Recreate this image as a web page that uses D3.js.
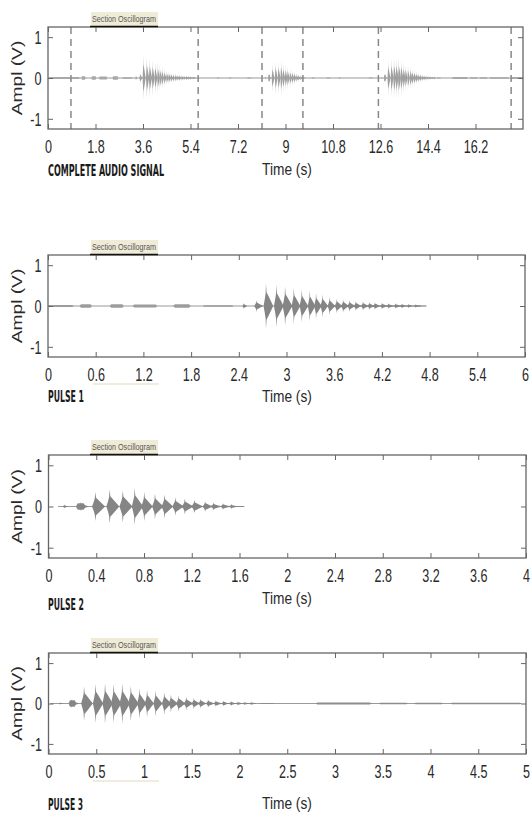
<!DOCTYPE html>
<html><head><meta charset="utf-8">
<script src="https://cdn.jsdelivr.net/npm/d3@7"></script>
<style>body{margin:0;background:#fff} svg{display:block}</style>
</head><body>
<svg id="c" width="532" height="814"></svg>
<script>
// ---------------- DATA ----------------
const fullTicks   = [0, 1.8, 3.6, 5.4, 7.2, 9, 10.8, 12.6, 14.4, 16.2];
const pulse1Ticks = [0, 0.6, 1.2, 1.8, 2.4, 3, 3.6, 4.2, 4.8, 5.4, 6];
const pulse2Ticks = [0, 0.4, 0.8, 1.2, 1.6, 2, 2.4, 2.8, 3.2, 3.6, 4];
const pulse3Ticks = [0, 0.5, 1, 1.5, 2, 2.5, 3, 3.5, 4, 4.5, 5];
const ampTicks = [-1, 0, 1];
const xDomains = [18, 6, 4, 5];

const panelTitles = ["COMPLETE AUDIO SIGNAL", "PULSE 1", "PULSE 2", "PULSE 3"];
const sectionLabel = "Section Oscillogram";

// section boundaries in the complete signal (dashed lines)
const sectionStarts = [0.87, 8.11, 12.52];
const sectionEnds   = [5.69, 9.66, 17.55];

// Pulse 1 (local time, s)
const p1Times  = [2.46, 2.62, 2.74, 2.87, 2.98, 3.09, 3.19, 3.29, 3.37, 3.45, 3.54, 3.63, 3.71, 3.79, 3.87, 3.96, 4.04, 4.11, 4.20, 4.28, 4.37, 4.45, 4.53, 4.62];
const p1Amps   = [0.08, 0.14, 0.56, 0.52, 0.48, 0.44, 0.40, 0.38, 0.32, 0.28, 0.22, 0.18, 0.16, 0.14, 0.12, 0.11, 0.10, 0.09, 0.08, 0.07, 0.07, 0.06, 0.05, 0.04];
const p1Widths = [0.04, 0.08, 0.09, 0.09, 0.09, 0.08, 0.08, 0.07, 0.07, 0.07, 0.07, 0.07, 0.07, 0.07, 0.07, 0.07, 0.06, 0.07, 0.07, 0.07, 0.07, 0.07, 0.07, 0.07];
const p1NoiseStart = [0.00, 0.40, 0.78, 1.07, 1.58, 1.95, 4.62];
const p1NoiseEnd   = [0.32, 0.55, 0.95, 1.37, 1.79, 2.33, 4.76];
const p1NoiseAmp   = [0.025, 0.04, 0.04, 0.035, 0.04, 0.02, 0.015];
const p1Span = [0, 4.76];

// Pulse 2
const p2Times  = [0.13, 0.27, 0.39, 0.51, 0.62, 0.72, 0.80, 0.89, 0.97, 1.06, 1.14, 1.22, 1.31, 1.38, 1.46, 1.53];
const p2Amps   = [0.05, 0.11, 0.35, 0.41, 0.39, 0.45, 0.35, 0.31, 0.29, 0.22, 0.19, 0.16, 0.13, 0.10, 0.08, 0.06];
const p2Widths = [0.03, 0.06, 0.08, 0.08, 0.08, 0.07, 0.07, 0.07, 0.07, 0.07, 0.07, 0.07, 0.06, 0.06, 0.06, 0.06];
const p2NoiseStart = [0.23, 1.53];
const p2NoiseEnd   = [0.31, 1.64];
const p2NoiseAmp   = [0.08, 0.015];
const p2Span = [0.08, 1.64];

// Pulse 3
const p3Times  = [0.12, 0.24, 0.37, 0.49, 0.59, 0.68, 0.77, 0.86, 0.95, 1.03, 1.12, 1.21, 1.28, 1.36, 1.44, 1.52, 1.59, 1.67, 1.75, 1.83, 1.91, 1.98, 2.05, 2.12];
const p3Amps   = [0.03, 0.10, 0.42, 0.48, 0.50, 0.48, 0.50, 0.44, 0.38, 0.34, 0.32, 0.28, 0.22, 0.20, 0.16, 0.14, 0.12, 0.10, 0.08, 0.07, 0.06, 0.05, 0.04, 0.04];
const p3Widths = [0.03, 0.07, 0.09, 0.08, 0.08, 0.08, 0.08, 0.08, 0.07, 0.07, 0.07, 0.07, 0.07, 0.07, 0.07, 0.06, 0.06, 0.06, 0.06, 0.06, 0.06, 0.05, 0.05, 0.05];
const p3NoiseStart = [0.21, 2.22, 2.80, 3.46, 3.83, 4.21];
const p3NoiseEnd   = [0.29, 2.36, 3.38, 3.76, 4.13, 4.95];
const p3NoiseAmp   = [0.08, 0.012, 0.022, 0.02, 0.02, 0.02];
const p3Span = [0.02, 4.95];

// extra noise in the complete signal outside the sections
const fullNoiseStart = [0.05, 6.40, 6.85, 7.55, 10.00, 10.55, 11.00, 12.15, 17.55];
const fullNoiseEnd   = [0.85, 6.50, 6.95, 7.70, 10.10, 10.70, 11.10, 12.30, 18.00];
const fullNoiseAmp   = [0.025, 0.015, 0.015, 0.015, 0.015, 0.015, 0.015, 0.015, 0.025];

// ---------------- HELPERS ----------------
function pulses(times, amps, widths, off) {
  return times.map((t, i) => ({t: t + off, a: amps[i], w: widths[i]}));
}
function noise(s, e, a, off) {
  return s.map((v, i) => ({s: v + off, e: e[i] + off, a: a[i]}));
}
// envelope of one pulse: pointed spike over a spindle-shaped decaying body
const SHAPE = [[-0.3, 0.02], [-0.15, 0.3], [-0.03, 0.55], [0.02, 1], [0.1, 0.6], [0.35, 0.45], [0.7, 0.22], [1.0, 0.02]];

const P1 = pulses(p1Times, p1Amps, p1Widths, 0), P2 = pulses(p2Times, p2Amps, p2Widths, 0), P3 = pulses(p3Times, p3Amps, p3Widths, 0);
const N1 = noise(p1NoiseStart, p1NoiseEnd, p1NoiseAmp, 0), N2 = noise(p2NoiseStart, p2NoiseEnd, p2NoiseAmp, 0), N3 = noise(p3NoiseStart, p3NoiseEnd, p3NoiseAmp, 0);

const fullPulses = [].concat(
  pulses(p1Times, p1Amps, p1Widths, sectionStarts[0]),
  pulses(p2Times, p2Amps, p2Widths, sectionStarts[1]),
  pulses(p3Times, p3Amps, p3Widths, sectionStarts[2]));
const fullNoise = [].concat(
  noise(p1NoiseStart, p1NoiseEnd, p1NoiseAmp, sectionStarts[0]),
  noise(p2NoiseStart, p2NoiseEnd, p2NoiseAmp, sectionStarts[1]),
  noise(p3NoiseStart, p3NoiseEnd, p3NoiseAmp, sectionStarts[2]),
  noise(fullNoiseStart, fullNoiseEnd, fullNoiseAmp, 0));

const panels = [
  {box: [48, 523, 27, 129], dom: xDomains[0], ticks: fullTicks, pulses: fullPulses, noise: fullNoise, span: [0, 18], dashed: sectionStarts.concat(sectionEnds), col: "#a0a0a0", ncol: "#a8a8a8", timeY: 46, titleY: 47, titleW: 116, faint: false},
  {box: [48, 525, 255, 357], dom: xDomains[1], ticks: pulse1Ticks, pulses: P1, noise: N1, span: p1Span, dashed: [], col: "#858585", ncol: "#9c9c9c", timeY: 45, titleY: 45, titleW: 36, faint: true},
  {box: [48.5, 526, 455, 558], dom: xDomains[2], ticks: pulse2Ticks, pulses: P2, noise: N2, span: p2Span, dashed: [], col: "#858585", ncol: "#8a8a8a", timeY: 46, titleY: 52, titleW: 36, faint: false},
  {box: [48.5, 526, 653, 754], dom: xDomains[3], ticks: pulse3Ticks, pulses: P3, noise: N3, span: p3Span, dashed: [], col: "#858585", ncol: "#8c8c8c", timeY: 55, titleY: 56, titleW: 35, faint: true}
];

const svg = d3.select("#c");
const FONT = "'Liberation Sans', Arial, Helvetica, sans-serif";

panels.forEach((p, pi) => {
  const [L, R, T, B] = p.box;
  const x = d3.scaleLinear().domain([0, p.dom]).range([L, R]);
  const y = d3.scaleLinear().domain([-1.25, 1.25]).range([B, T]);
  const g = svg.append("g");
  const clipId = "clip" + pi;
  g.append("clipPath").attr("id", clipId).append("rect").attr("x", L).attr("y", T).attr("width", R - L).attr("height", B - T);
  const plot = g.append("g").attr("clip-path", `url(#${clipId})`);

  // baseline
  plot.append("line").attr("x1", x(p.span[0])).attr("x2", x(p.span[1])).attr("y1", y(0)).attr("y2", y(0))
    .attr("stroke", "#9a9a9a").attr("stroke-width", 1.1);

  const area = d3.area().x(d => x(d[0])).y0(d => y(-d[1])).y1(d => y(d[1]));
  // noise segments
  plot.selectAll("path.noise").data(p.noise).join("path").attr("class", "noise")
    .attr("d", d => area([[d.s, 0.008], [d.s + 0.015, d.a], [d.e - 0.015, d.a], [d.e, 0.008]]))
    .attr("fill", p.ncol);
  // pulses
  plot.selectAll("path.pulse").data(p.pulses).join("path").attr("class", "pulse")
    .attr("d", d => area(SHAPE.map(s => [d.t + s[0] * d.w, Math.max(s[1] * d.a, 0.012)])))
    .attr("fill", p.col);

  // dashed section lines
  g.selectAll("line.dash").data(p.dashed).join("line").attr("class", "dash")
    .attr("x1", d => x(d)).attr("x2", d => x(d)).attr("y1", T).attr("y2", B)
    .attr("stroke", "#888").attr("stroke-width", 1.5).attr("stroke-dasharray", "7,5");

  // axes (inward ticks)
  const styleAxis = sel => { sel.select(".domain").remove(); sel.selectAll("line").attr("stroke", "#666"); };
  const bx = g.append("g").attr("transform", `translate(0,${B})`)
    .call(d3.axisBottom(x).tickValues(p.ticks).tickSize(-5).tickSizeOuter(0).tickFormat(d => String(d))).call(styleAxis);
  bx.selectAll("text").attr("y", 24).attr("dy", null).attr("transform", "scale(0.7,1)")
    .style("font-family", FONT).style("font-size", "18px").attr("fill", "#2a2a2a");
  g.append("g").attr("transform", `translate(0,${T})`)
    .call(d3.axisTop(x).tickValues(p.ticks).tickSize(-5).tickSizeOuter(0).tickFormat("")).call(styleAxis);
  const ly = g.append("g").attr("transform", `translate(${L},0)`)
    .call(d3.axisLeft(y).tickValues(ampTicks).tickSize(-5).tickSizeOuter(0).tickFormat(d => String(d))).call(styleAxis);
  ly.selectAll("text").attr("x", -6.5 / 0.7).attr("dy", "0.36em").attr("transform", "scale(0.7,1)")
    .style("font-family", FONT).style("font-size", "18px").attr("fill", "#2a2a2a");
  g.append("g").attr("transform", `translate(${R},0)`)
    .call(d3.axisRight(y).tickValues(ampTicks).tickSize(-5).tickSizeOuter(0).tickFormat("")).call(styleAxis);

  // box
  g.append("rect").attr("x", L).attr("y", T).attr("width", R - L).attr("height", B - T)
    .attr("fill", "none").attr("stroke", "#666").attr("stroke-width", 1.3);

  // section oscillogram tag
  g.append("rect").attr("x", 91).attr("y", T - 15).attr("width", 67).attr("height", 15).attr("fill", "#efebd7");
  g.append("text").attr("x", 92).attr("y", T - 5).text(sectionLabel)
    .attr("textLength", 64).attr("lengthAdjust", "spacingAndGlyphs")
    .style("font-family", FONT).style("font-size", "9px").attr("fill", "#555");
  g.append("line").attr("x1", 90).attr("x2", 158).attr("y1", T - 0.5).attr("y2", T - 0.5)
    .attr("stroke", "#111").attr("stroke-width", 1.6);
  if (p.faint) {
    g.append("line").attr("x1", 93).attr("x2", 159).attr("y1", B + 27).attr("y2", B + 27)
      .attr("stroke", "#ebe6d3").attr("stroke-width", 1.5);
  }

  // y label
  g.append("text").attr("transform", `translate(22,${y(0)}) rotate(-90) scale(1.28,1)`)
    .attr("text-anchor", "middle").text("Ampl (V)")
    .style("font-family", FONT).style("font-size", "15px").attr("fill", "#2a2a2a");
  // x label
  g.append("text").attr("transform", `translate(262,${B + p.timeY}) scale(0.86,1)`)
    .text("Time (s)").style("font-family", FONT).style("font-size", "16px").attr("fill", "#2a2a2a");
  // panel title
  g.append("text").attr("x", 48).attr("y", B + p.titleY).text(panelTitles[pi])
    .attr("textLength", p.titleW).attr("lengthAdjust", "spacingAndGlyphs")
    .style("font-family", "'DejaVu Sans Condensed', 'Liberation Sans Narrow', sans-serif")
    .style("font-weight", "bold").style("font-size", "16px").attr("fill", "#1a1a1a");
});
</script>
</body></html>
